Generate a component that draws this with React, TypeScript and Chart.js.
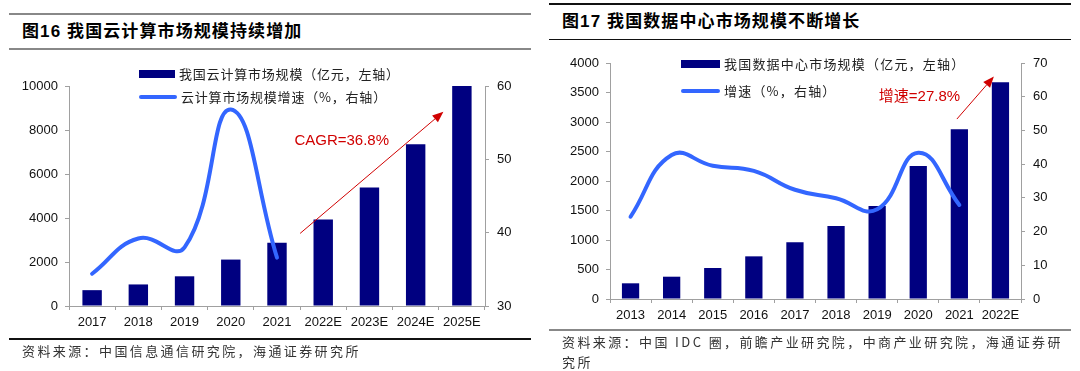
import React, { useEffect, useRef } from "react";
import { Chart, registerables } from "chart.js";

Chart.register(...registerables);

// ---------- data ----------
const cloudYears = ["2017", "2018", "2019", "2020", "2021", "2022E", "2023E", "2024E", "2025E"];
const cloudMarket = [720, 980, 1350, 2110, 2880, 3930, 5390, 7350, 10000];
const cloudGrowth = [34.4, 39.2, 38.0, 56.8, 36.6, null, null, null, null];

const idcYears = ["2013", "2014", "2015", "2016", "2017", "2018", "2019", "2020", "2021", "2022E"];
const idcMarket = [266, 378, 525, 723, 960, 1237, 1576, 2254, 2876, 3673];
const idcGrowth = [24.4, 42.7, 39.5, 38.0, 32.4, 29.9, 26.6, 43.4, 27.9, null];

// arrow annotations in data terms: [category index, left-axis value]
const cloudArrowFrom = [4.5, 3300];
const cloudArrowTo = [7.6, 8830];
const cloudArrowLabel = "CAGR=36.8%";
const cloudArrowLabelAt = [5.4, 7500];

const idcArrowFrom = [7.94, 3050];
const idcArrowTo = [8.84, 3770];
const idcArrowLabel = "增速=27.8%";
const idcArrowLabelAt = [7.03, 3420];

// ---------- styles ----------
const NAVY = "#000080";
const BLUE = "#3366FF";
const RED = "#D00000";
const AXIS = "#A0A0A0";
const LATIN = '"Liberation Sans", Arial, "Noto Sans CJK SC", sans-serif';
const CJK = '"Noto Sans CJK SC", "Liberation Sans", sans-serif';

const arrowPlugin = {
  id: "arrowNote",
  afterDatasetsDraw(chart: any, _args: any, opts: any) {
    if (!opts || !opts.from) return;
    const xs = chart.scales.x;
    const ys = chart.scales.y;
    const ctx = chart.ctx;
    const x0 = xs.getPixelForValue(opts.from[0]);
    const y0 = ys.getPixelForValue(opts.from[1]);
    const x1 = xs.getPixelForValue(opts.to[0]);
    const y1 = ys.getPixelForValue(opts.to[1]);
    const ang = Math.atan2(y1 - y0, x1 - x0);
    const c = Math.cos(ang);
    const s = Math.sin(ang);
    const head = 11;
    const half = 4.5;
    ctx.save();
    ctx.strokeStyle = RED;
    ctx.fillStyle = RED;
    ctx.lineWidth = 1;
    ctx.beginPath();
    ctx.moveTo(x0, y0);
    ctx.lineTo(x1 - head * c, y1 - head * s);
    ctx.stroke();
    const bx = x1 - head * c;
    const by = y1 - head * s;
    ctx.beginPath();
    ctx.moveTo(x1, y1);
    ctx.lineTo(bx + half * s, by - half * c);
    ctx.lineTo(bx - half * s, by + half * c);
    ctx.closePath();
    ctx.fill();
    ctx.font = `15px ${LATIN}`;
    ctx.textAlign = "center";
    ctx.textBaseline = "middle";
    ctx.fillText(opts.label, xs.getPixelForValue(opts.at[0]), ys.getPixelForValue(opts.at[1]));
    ctx.restore();
  },
};

type ComboProps = {
  labels: string[];
  bars: number[];
  line: (number | null)[];
  yMax: number;
  yStep: number;
  y1Min: number;
  y1Max: number;
  y1Step: number;
  width: number;
  height: number;
  padTop: number;
  leftW: number;
  rightW: number;
  bottomH: number;
  arrow: any;
};

function ComboChart(p: ComboProps) {
  const ref = useRef<HTMLCanvasElement>(null);
  useEffect(() => {
    const tickFont = { family: LATIN, size: 13 };
    const chart = new Chart(ref.current as HTMLCanvasElement, {
      type: "bar",
      data: {
        labels: p.labels,
        datasets: [
          {
            type: "line",
            data: p.line as any,
            yAxisID: "y1",
            borderColor: BLUE,
            borderWidth: 4,
            pointRadius: 0,
            tension: 0.45,
            fill: false,
            order: 0,
            borderCapStyle: "round",
          } as any,
          {
            type: "bar",
            data: p.bars,
            yAxisID: "y",
            backgroundColor: NAVY,
            barPercentage: 0.42,
            categoryPercentage: 1,
            order: 1,
          } as any,
        ],
      },
      options: {
        responsive: false,
        animation: false,
        devicePixelRatio: 1,
        layout: { padding: { top: p.padTop, left: 0, right: 0, bottom: 0 } },
        plugins: {
          legend: { display: false },
          tooltip: { enabled: false },
          arrowNote: p.arrow,
        } as any,
        scales: {
          x: {
            type: "category",
            offset: true,
            grid: { offset: true, drawOnChartArea: false, drawTicks: true, tickLength: 4, color: AXIS },
            border: { display: true, color: AXIS, width: 1 },
            ticks: { color: "#111", font: tickFont, padding: 5, maxRotation: 0, autoSkip: false },
            afterFit: (s: any) => {
              s.height = p.bottomH;
            },
          },
          y: {
            position: "left",
            min: 0,
            max: p.yMax,
            ticks: { stepSize: p.yStep, color: "#111", font: tickFont, padding: 7, callback: (v: any) => String(v) },
            grid: { drawOnChartArea: false, drawTicks: true, tickLength: 4, color: AXIS },
            border: { display: true, color: AXIS, width: 1 },
            afterFit: (s: any) => {
              s.width = p.leftW;
            },
          },
          y1: {
            position: "right",
            min: p.y1Min,
            max: p.y1Max,
            ticks: { stepSize: p.y1Step, color: "#111", font: tickFont, padding: 8, callback: (v: any) => String(v) },
            grid: { drawOnChartArea: false, drawTicks: true, tickLength: 4, color: AXIS },
            border: { display: true, color: AXIS, width: 1 },
            afterFit: (s: any) => {
              s.width = p.rightW;
            },
          },
        },
      } as any,
      plugins: [arrowPlugin as any],
    });
    return () => chart.destroy();
  }, []);
  return <canvas ref={ref} width={p.width} height={p.height} style={{ display: "block", width: p.width, height: p.height }} />;
}

const abs = (o: React.CSSProperties): React.CSSProperties => ({ position: "absolute", ...o });

function Rule(props: { x: number; y: number; w: number; h: number; c: string }) {
  return <div style={abs({ left: props.x, top: props.y, width: props.w, height: props.h, background: props.c })} />;
}

function Txt(props: { x: number; cy: number; size: number; text: string; family?: string; weight?: number; spacing?: number; color?: string; lh?: number }) {
  const lh = props.lh ?? 20;
  return (
    <div
      style={abs({
        left: props.x,
        top: props.cy - lh / 2,
        lineHeight: `${lh}px`,
        fontSize: props.size,
        fontFamily: props.family ?? CJK,
        fontWeight: props.weight ?? 400,
        letterSpacing: props.spacing ?? 0,
        color: props.color ?? "#222",
        whiteSpace: "pre",
      })}
    >
      {props.text}
    </div>
  );
}

export default function App() {
  return (
    <div style={abs({ left: 0, top: 0, width: 1080, height: 371, background: "#fff", overflow: "hidden" })}>
      {/* ---------- left panel ---------- */}
      <Rule x={9} y={13} w={522} h={2} c="#888" />
      <Txt x={22} cy={31.5} size={17} weight={700} spacing={1.1} color="#000" family={LATIN} text="图16 我国云计算市场规模持续增加" />
      <Rule x={9} y={48} w={522} h={2} c="#888" />

      <div style={abs({ left: 0, top: 56 })}>
        <ComboChart
          labels={cloudYears}
          bars={cloudMarket}
          line={cloudGrowth}
          yMax={10000}
          yStep={2000}
          y1Min={30}
          y1Max={60}
          y1Step={10}
          width={540}
          height={284}
          padTop={30}
          leftW={69}
          rightW={55}
          bottomH={34}
          arrow={{ from: cloudArrowFrom, to: cloudArrowTo, label: cloudArrowLabel, at: cloudArrowLabelAt }}
        />
      </div>

      <div style={abs({ left: 139, top: 70, width: 36, height: 8, background: NAVY })} />
      <Txt x={179} cy={74} size={13} spacing={0.8} text="我国云计算市场规模（亿元，左轴）" />
      <div style={abs({ left: 139, top: 95, width: 38, height: 4, borderRadius: 2, background: BLUE })} />
      <Txt x={181} cy={97} size={13} spacing={0.8} text="云计算市场规模增速（%，右轴）" />

      <Rule x={9} y={338} w={522} h={1.5} c="#111" />
      <Txt x={22} cy={351} size={13} spacing={2.4} color="#333" text="资料来源：中国信息通信研究院，海通证券研究所" />

      {/* ---------- right panel ---------- */}
      <Rule x={549} y={3} w={522} h={2} c="#111" />
      <Txt x={562} cy={21.5} size={17} weight={700} spacing={1.1} color="#000" family={LATIN} text="图17 我国数据中心市场规模不断增长" />
      <Rule x={549} y={38.5} w={522} h={1.5} c="#111" />

      <div style={abs({ left: 540, top: 40 })}>
        <ComboChart
          labels={idcYears}
          bars={idcMarket}
          line={idcGrowth}
          yMax={4000}
          yStep={500}
          y1Min={0}
          y1Max={70}
          y1Step={10}
          width={540}
          height={290}
          padTop={23}
          leftW={70}
          rightW={59}
          bottomH={31}
          arrow={{ from: idcArrowFrom, to: idcArrowTo, label: idcArrowLabel, at: idcArrowLabelAt }}
        />
      </div>

      <div style={abs({ left: 681, top: 60, width: 39, height: 8, background: NAVY })} />
      <Txt x={724} cy={64} size={13} spacing={1.2} text="我国数据中心市场规模（亿元，左轴）" />
      <div style={abs({ left: 681, top: 89, width: 39, height: 4, borderRadius: 2, background: BLUE })} />
      <Txt x={724} cy={91} size={13} spacing={1.2} text="增速（%，右轴）" />

      <Rule x={549} y={328.5} w={522} h={2} c="#888" />
      <Txt x={562} cy={341.5} size={13} spacing={2.4} color="#333" text="资料来源：中国 IDC 圈，前瞻产业研究院，中商产业研究院，海通证券研" />
      <Txt x={562} cy={361.5} size={13} spacing={2.4} color="#333" text="究所" />
    </div>
  );
}
